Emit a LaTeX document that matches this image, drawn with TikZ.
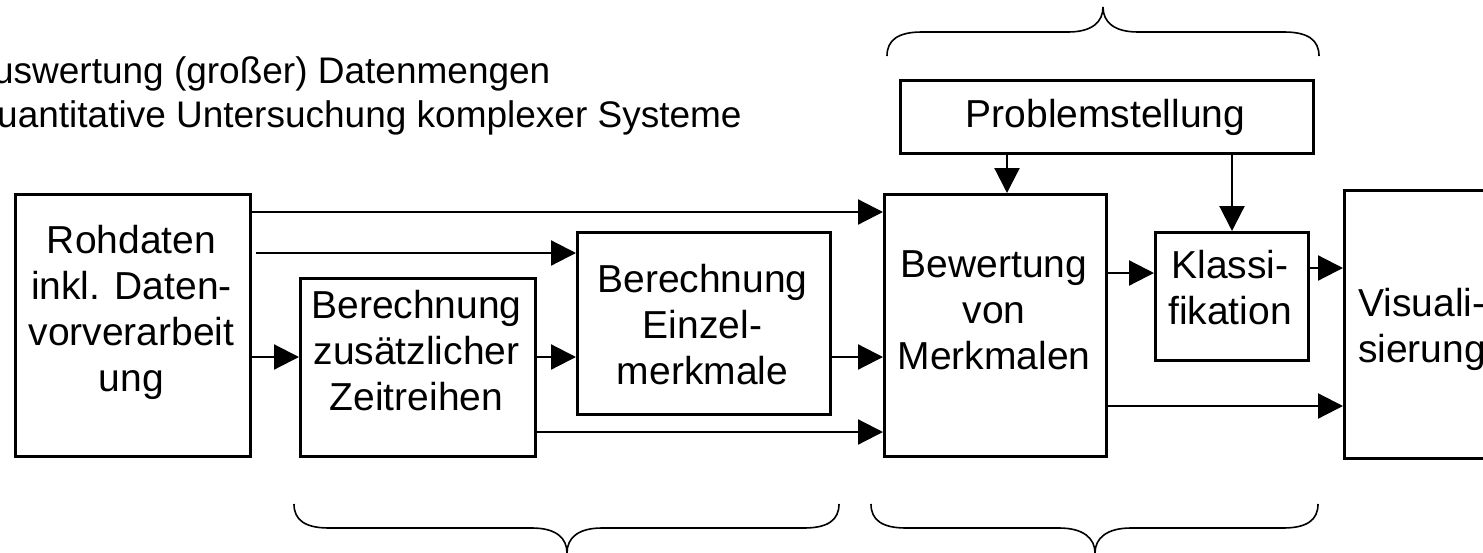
\documentclass[tikz,border=0pt]{standalone}
\usepackage{fontspec}
\setmainfont{Liberation Sans}
\usetikzlibrary{arrows.meta,calc}
\begin{document}
\begin{tikzpicture}[x=0.5pt,y=-0.5pt,
  box/.style={draw,line width=1.3pt,inner sep=0pt,anchor=north west},
  lbl/.style={font=\fontsize{19.5}{23}\selectfont,align=center,inner sep=0pt,text depth=0pt},
  arr/.style={line width=1.1pt,-{Triangle[length=12.5pt,width=12.5pt]}},
  brace/.style={line width=0.8pt}]
\useasboundingbox (0,0) rectangle (1483,552);

% boxes
\node[box,minimum width=117.5pt,minimum height=131pt] (roh)  at (14,193) {};
\node[box,minimum width=117.5pt,minimum height=89pt]  (zus)  at (299,277) {};
\node[box,minimum width=126.5pt,minimum height=91pt]  (ein)  at (576,231) {};
\node[box,minimum width=111pt,minimum height=131pt]   (bew)  at (883,193) {};
\node[box,minimum width=76.5pt,minimum height=64pt]   (kla)  at (1154,231) {};
\node[box,minimum width=79pt,minimum height=134pt]    (vis)  at (1343,189) {};
\node[box,minimum width=206.5pt,minimum height=36.5pt] (prob) at (899,79) {};

% texts
\node[lbl] (troh) at (131.5,308) {Rohdaten\\inkl. Daten-\\vorverarbeit\\ung};
\node[lbl] (tzus) at (416.5,350.5) {Berechnung\\zusätzlicher\\Zeitreihen};
\node[lbl] (tein) at (702.5,324.5) {Berechnung\\Einzel-\\merkmale};
\node[lbl] (tbew) at (994,310.5) {Bewertung\\von\\Merkmalen};
\node[lbl] (tkla) at (1230,287) {Klassi-\\fikation};
\node[lbl] (tvis) at (1422,325) {Visuali-\\sierung};
\node[lbl] (tprob) at (1105.5,113.5) {Problemstellung};
\node[lbl,align=left,anchor=west,font=\fontsize{18.5}{22}\selectfont] (intro) at (-32,92)
  {Auswertung (großer) Datenmengen\\Quantitative Untersuchung komplexer Systeme};

% connectors
\draw[arr] (roh.east |- 0,212) -- (bew.west |- 0,212);
\draw[arr] ($(roh.east |- 0,253)+(4,0)$) -- (ein.west |- 0,253);
\draw[arr] (roh.east |- 0,357) -- (zus.west |- 0,357);
\draw[arr] (zus.east |- 0,357) -- (ein.west |- 0,357);
\draw[arr] (ein.east |- 0,357) -- (bew.west |- 0,357);
\draw[arr] (zus.east |- 0,432) -- (bew.west |- 0,432);
\draw[arr] (prob.south -| 1007,0) -- (bew.north -| 1007,0);
\draw[arr] (prob.south -| 1232,0) -- (kla.north -| 1232,0);
\draw[arr] (bew.east |- 0,273) -- (kla.west |- 0,273);
\draw[arr] (kla.east |- 0,268) -- (vis.west |- 0,268);
\draw[arr] (bew.east |- 0,406) -- (vis.west |- 0,406);

% braces
\draw[brace] (887,56) .. controls (887,40) and (898,32) .. (922,32) -- (1068,32)
  .. controls (1092,32) and (1103,22) .. (1103,7)
  .. controls (1103,22) and (1114,32) .. (1138,32) -- (1284,32)
  .. controls (1308,32) and (1319,40) .. (1319,56);
\draw[brace] (294,504) .. controls (294,520) and (305,528) .. (329,528) -- (532,528)
  .. controls (556,528) and (567,538) .. (567,553)
  .. controls (567,538) and (578,528) .. (602,528) -- (804,528)
  .. controls (828,528) and (839,520) .. (839,504);
\draw[brace] (871,504) .. controls (871,520) and (882,528) .. (906,528) -- (1059,528)
  .. controls (1083,528) and (1095,538) .. (1095,553)
  .. controls (1095,538) and (1107,528) .. (1131,528) -- (1283,528)
  .. controls (1307,528) and (1318,520) .. (1318,504);
\end{tikzpicture}
\end{document}
